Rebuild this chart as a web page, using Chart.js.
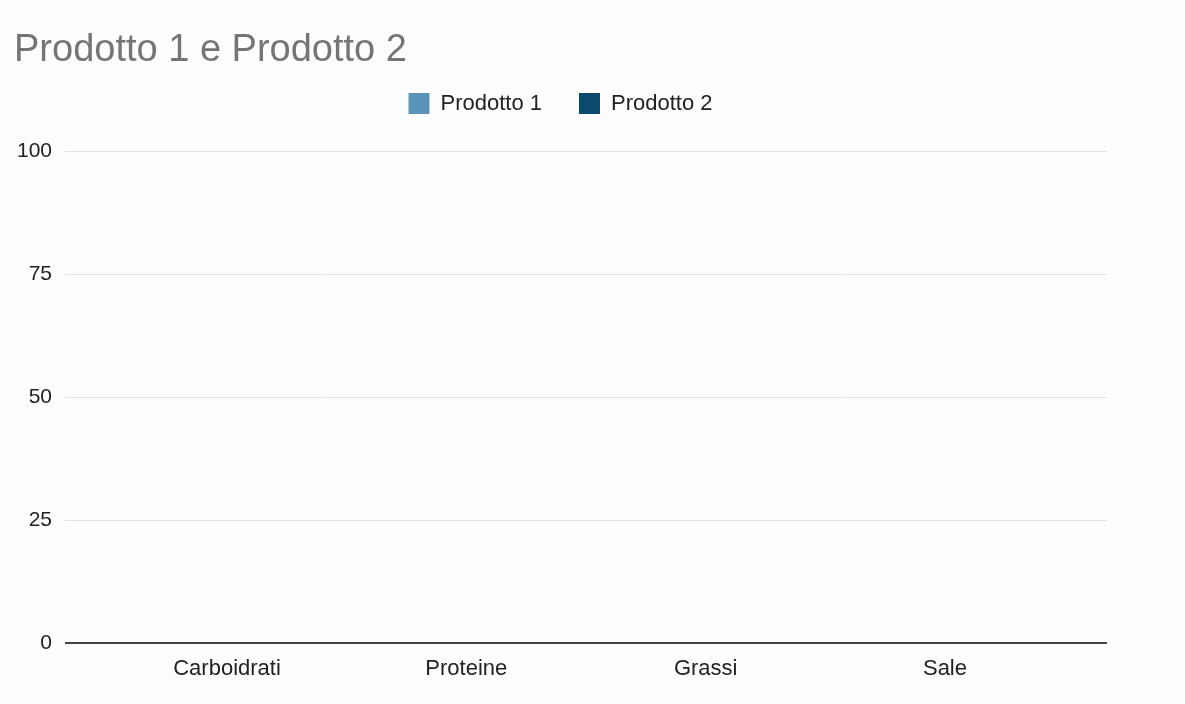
<!DOCTYPE html>
<html>
<head>
<meta charset="utf-8">
<script src="https://cdn.jsdelivr.net/npm/chart.js@4/dist/chart.umd.min.js"></script>
<style>
  html, body { margin: 0; padding: 0; background: #fdfdfd; }
  #wrap { width: 1185px; height: 704px; position: relative; }
</style>
</head>
<body>
<div id="wrap"><canvas id="chart"></canvas></div>
<script>
// ---- data ----
const categories = ['Carboidrati', 'Proteine', 'Grassi', 'Sale'];
const prodotto1 = [null, null, null, null];
const prodotto2 = [null, null, null, null];
const yTicks = [0, 25, 50, 75, 100];

const FONT = "'Liberation Sans', Arial, sans-serif";
const EDGE = 0.677; // space left/right of the category band, in category units

const toPoints = arr => arr.map((v, i) => ({ x: i, y: v }));

// a bit more room between the legend and the plot
const legendGap = {
  id: 'legendGap',
  beforeInit(chart) {
    const fit = chart.legend.fit;
    chart.legend.fit = function () {
      fit.call(this);
      this.height += 27;
    };
  }
};

new Chart(document.getElementById('chart'), {
  type: 'bar',
  data: {
    datasets: [
      { label: 'Prodotto 1', data: toPoints(prodotto1), backgroundColor: '#5b94b8' },
      { label: 'Prodotto 2', data: toPoints(prodotto2), backgroundColor: '#0b4a6c' }
    ]
  },
  plugins: [legendGap],
  options: {
    responsive: true,
    maintainAspectRatio: false,
    animation: false,
    layout: { padding: { left: 14, right: 78, top: 28, bottom: 0 } },
    plugins: {
      title: {
        display: true,
        text: 'Prodotto 1 e Prodotto 2',
        align: 'start',
        color: '#757575',
        font: { family: FONT, size: 38, weight: 'normal' },
        padding: { top: 0, bottom: -18 }
      },
      legend: {
        labels: {
          boxWidth: 21,
          boxHeight: 21,
          padding: 37,
          color: '#222',
          font: { family: FONT, size: 22 }
        }
      },
      tooltip: { enabled: false }
    },
    scales: {
      x: {
        type: 'linear',
        offset: false,
        min: -EDGE,
        max: categories.length - 1 + EDGE,
        afterBuildTicks: s => { s.ticks = categories.map((c, i) => ({ value: i })); },
        afterFit: s => { s.height = 61; },
        grid: { display: false, drawTicks: false },
        border: { display: false },
        ticks: {
          color: '#222', padding: 13, maxRotation: 0, autoSkip: false,
          font: { family: FONT, size: 22 },
          callback: v => categories[v]
        }
      },
      y: {
        min: 0,
        max: 100,
        afterBuildTicks: s => { s.ticks = yTicks.map(v => ({ value: v })); },
        afterFit: s => { s.width = 51; },
        grid: {
          drawTicks: false,
          color: c => c.tick && c.tick.value === 0 ? '#444' : '#e2e2e2',
          lineWidth: c => c.tick && c.tick.value === 0 ? 2 : 1
        },
        border: { display: false },
        ticks: { color: '#222', padding: 13, font: { family: FONT, size: 21 } }
      }
    }
  }
});
</script>
</body>
</html>
